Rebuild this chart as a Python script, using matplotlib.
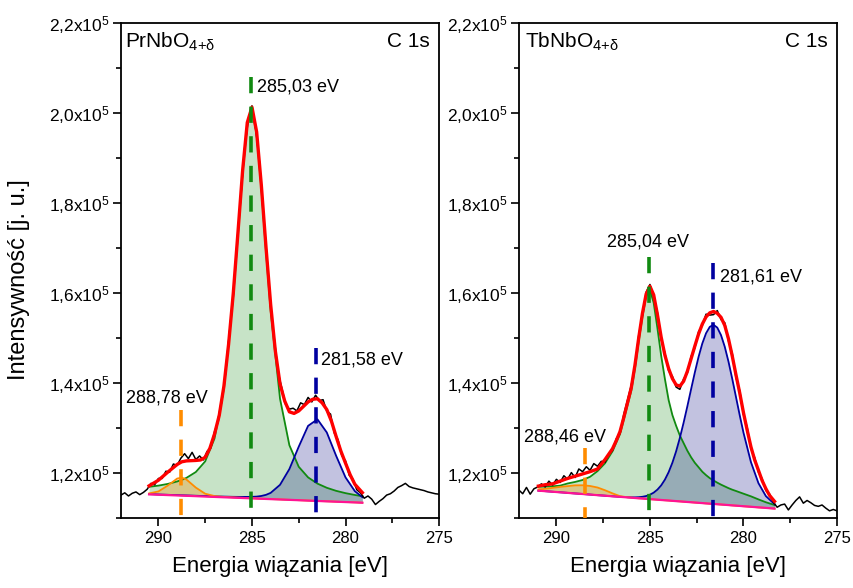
import numpy as np
import matplotlib
matplotlib.use('Agg')
import matplotlib.pyplot as plt
from matplotlib.ticker import MultipleLocator, FuncFormatter

plt.rcParams['font.family'] = 'Liberation Sans'
plt.rcParams['mathtext.fontset'] = 'custom'
plt.rcParams['mathtext.rm'] = 'Liberation Sans'
plt.rcParams['mathtext.it'] = 'Liberation Sans:italic'

# binding energy of the measured spectra (eV), same for both samples
raw_energy = [
    292.0, 291.8, 291.6, 291.4, 291.2, 291.0, 290.8, 290.6, 290.4, 290.2,
    290.0, 289.8, 289.6, 289.4, 289.2, 289.0, 288.8, 288.6, 288.4, 288.2,
    288.0, 287.8, 287.6, 287.4, 287.2, 287.0, 286.8, 286.6, 286.4, 286.2,
    286.0, 285.8, 285.6, 285.4, 285.2, 285.0, 284.8, 284.6, 284.4, 284.2,
    284.0, 283.8, 283.6, 283.4, 283.2, 283.0, 282.8, 282.6, 282.4, 282.2,
    282.0, 281.8, 281.6, 281.4, 281.2, 281.0, 280.8, 280.6, 280.4, 280.2,
    280.0, 279.8, 279.6, 279.4, 279.2, 279.0, 278.8, 278.6, 278.4, 278.2,
    278.0, 277.8, 277.6, 277.4, 277.2, 277.0, 276.8, 276.6, 276.4, 276.2,
    276.0, 275.8, 275.6, 275.4, 275.2, 275.0]

# intensities in units of 10^3 counts
pr_raw = [
    115.1, 115.6, 114.9, 115.5, 115.8, 115.2, 115.7, 116.4, 117.7, 117.4,
    118.8, 118.8, 120.4, 120.2, 122.0, 121.7, 123.3, 124.3, 123.2, 124.6,
    123.0, 123.8, 122.9, 124.8, 125.6, 129.2, 131.5, 136.3, 142.6, 151.3,
    159.5, 171.1, 181.2, 191.9, 198.4, 201.6, 196.5, 189.2, 178.0, 168.0,
    156.9, 149.6, 142.3, 138.8, 135.2, 134.2, 134.4, 133.8, 135.6, 135.2,
    136.8, 135.8, 137.3, 136.1, 136.3, 133.7, 133.1, 128.9, 127.4, 123.9,
    122.7, 119.5, 118.6, 116.3, 115.6, 114.4, 114.9, 114.2, 113.0, 113.7,
    114.3, 115.1, 115.4, 116.0, 116.8, 117.2, 117.7, 117.0, 116.7, 116.5,
    116.3, 116.1, 115.8, 115.6, 115.4, 115.3]

tb_raw = [
    116.2, 115.4, 116.8, 115.3, 116.5, 116.9, 117.6, 116.9, 118.2, 117.3,
    118.6, 117.9, 119.4, 118.6, 120.1, 119.0, 120.9, 120.3, 121.4, 120.6,
    122.1, 121.5, 122.6, 122.4, 124.2, 125.0, 127.6, 128.8, 133.0, 136.2,
    139.5, 143.6, 150.6, 155.1, 160.2, 161.9, 159.2, 155.7, 149.7, 146.7,
    142.7, 141.5, 139.1, 138.6, 140.9, 142.2, 145.9, 147.8, 151.4, 152.8,
    155.3, 155.1, 155.2, 156.1, 154.1, 153.4, 149.3, 146.6, 141.2, 138.3,
    133.0, 130.1, 125.4, 123.4, 120.2, 118.7, 116.1, 115.3, 113.5, 112.4,
    112.9, 113.1, 111.8, 112.9, 113.9, 114.7, 113.3, 113.9, 113.4, 112.8,
    112.6, 112.9, 112.2, 111.6, 111.9, 111.6]

# PrNbO4+d: envelope of the fit
pr_fit_energy = [290.5, 290.0, 289.5, 289.0, 288.75, 288.5, 288.0, 287.75, 287.5, 287.25,
                 287.0, 286.75, 286.5, 286.25, 286.0, 285.75, 285.5, 285.25, 285.0, 284.75,
                 284.5, 284.25, 284.0, 283.75, 283.5, 283.25, 283.0, 282.75, 282.5, 282.25,
                 282.0, 281.75, 281.5, 281.25, 281.0, 280.75, 280.5, 280.25, 280.0, 279.75,
                 279.5, 279.1]
pr_fit = [117.15, 118.4, 120.2, 121.9, 122.5, 122.7, 122.8, 122.9, 123.5, 125.5,
          128.7, 132.8, 139.3, 148.6, 159.9, 173.4, 187.2, 197.9, 201.3, 195.8,
          184.0, 170.2, 157.4, 147.1, 139.8, 136.0, 133.6, 133.25, 133.8, 134.8,
          135.8, 136.4, 136.5, 135.6, 134.1, 131.5, 128.1, 124.9, 122.2, 119.6,
          117.5, 115.65]

# PrNbO4+d: fitted components and background
pr_comp_energy = [290.5, 290.0, 289.5, 289.0, 288.75, 288.5, 288.0, 287.5, 287.0, 286.5,
                  286.0, 285.75, 285.5, 285.25, 285.0, 284.75, 284.5, 284.25, 284.0, 283.5,
                  283.0, 282.5, 282.0, 281.5, 281.0, 280.5, 280.0, 279.5, 279.1]
pr_background = [115.26, 115.18, 115.10, 115.02, 114.98, 114.94, 114.86, 114.77, 114.69, 114.61,
                 114.53, 114.49, 114.45, 114.41, 114.37, 114.32, 114.28, 114.24, 114.20, 114.12,
                 114.04, 113.96, 113.87, 113.79, 113.71, 113.63, 113.55, 113.47, 113.40]
pr_peak_288 = [115.47, 115.91, 117.21, 118.77, 118.98, 118.55, 116.76, 115.40, 114.88, 114.69,
               114.58, 114.53, 114.49, 114.45, 114.40, 114.35, 114.30, 114.26, 114.22, 114.14,
               114.05, 113.97, 113.88, 113.80, 113.72, 113.64, 113.56, 113.48, 113.40]
pr_peak_285 = [116.94, 117.20, 117.58, 118.12, 118.48, 118.93, 120.23, 122.59, 127.68, 138.77,
               159.34, 172.88, 186.74, 197.47, 200.90, 195.31, 183.35, 169.26, 156.01, 136.51,
               126.18, 121.39, 119.03, 117.65, 116.72, 116.04, 115.53, 115.12, 114.84]
pr_peak_281 = [115.31, 115.23, 115.16, 115.09, 115.05, 115.02, 114.95, 114.88, 114.82, 114.76,
               114.71, 114.70, 114.69, 114.69, 114.71, 114.76, 114.90, 115.15, 115.59, 117.38,
               120.88, 125.85, 130.48, 131.94, 129.02, 123.82, 119.04, 115.97, 114.65]

# TbNbO4+d: envelope of the fit
tb_fit_energy = [290.96, 290.6, 290.2, 289.8, 289.4, 289.0, 288.6, 288.2, 287.8, 287.4,
                 287.0, 286.8, 286.6, 286.4, 286.2, 286.0, 285.8, 285.6, 285.4, 285.2,
                 285.0, 284.8, 284.6, 284.4, 284.2, 284.0, 283.8, 283.6, 283.4, 283.2,
                 283.0, 282.8, 282.6, 282.4, 282.2, 282.0, 281.8, 281.6, 281.4, 281.2,
                 281.0, 280.8, 280.6, 280.4, 280.2, 280.0, 279.8, 279.6, 279.4, 279.2,
                 279.0, 278.8, 278.6, 278.34]
tb_fit = [117.1, 117.4, 117.6, 118.2, 118.8, 119.3, 119.8, 120.3, 120.9, 123.0,
          125.4, 127.2, 129.2, 132.3, 135.6, 138.9, 144.0, 150.0, 155.5, 159.8,
          161.5, 159.6, 155.2, 150.2, 146.2, 143.2, 141.0, 139.6, 139.3, 140.4,
          142.6, 145.4, 148.2, 150.9, 153.1, 154.7, 155.6, 155.9, 155.5, 154.6,
          152.8, 149.8, 146.0, 141.8, 137.8, 133.4, 129.5, 125.8, 122.9, 120.6,
          118.3, 116.5, 115.0, 113.7]

# TbNbO4+d: fitted components and background
tb_comp_energy = [290.96, 290.6, 290.2, 289.8, 289.4, 289.0, 288.6, 288.2, 287.8, 287.4,
                  287.0, 286.6, 286.2, 286.0, 285.8, 285.6, 285.4, 285.2, 285.0, 284.8,
                  284.6, 284.4, 284.2, 284.0, 283.8, 283.6, 283.4, 283.2, 283.0, 282.8,
                  282.6, 282.4, 282.2, 282.0, 281.8, 281.6, 281.4, 281.2, 281.0, 280.8,
                  280.6, 280.4, 280.2, 280.0, 279.6, 279.2, 278.8, 278.34]
tb_background = [116.08, 115.97, 115.84, 115.72, 115.59, 115.46, 115.34, 115.21, 115.08, 114.96,
                 114.83, 114.71, 114.58, 114.52, 114.45, 114.39, 114.33, 114.26, 114.20, 114.14,
                 114.07, 114.01, 113.95, 113.89, 113.82, 113.76, 113.70, 113.63, 113.57, 113.51,
                 113.44, 113.38, 113.32, 113.25, 113.19, 113.13, 113.07, 113.00, 112.94, 112.88,
                 112.81, 112.75, 112.69, 112.62, 112.50, 112.37, 112.25, 112.10]
tb_peak_288 = [116.37, 116.49, 116.70, 116.92, 117.09, 117.26, 117.28, 117.12, 116.78, 116.17,
               115.48, 114.86, 114.62, 114.54, 114.45, 114.39, 114.33, 114.26, 114.20, 114.14,
               114.07, 114.01, 113.95, 113.89, 113.82, 113.76, 113.70, 113.63, 113.57, 113.51,
               113.44, 113.38, 113.32, 113.25, 113.19, 113.13, 113.07, 113.00, 112.94, 112.88,
               112.81, 112.75, 112.69, 112.62, 112.50, 112.37, 112.25, 112.10]
tb_peak_285 = [116.96, 116.99, 117.05, 117.20, 117.68, 118.02, 118.45, 119.16, 120.43, 122.17,
               124.83, 128.66, 135.04, 138.23, 143.28, 149.27, 154.78, 159.37, 160.70, 157.85,
               152.20, 146.10, 140.92, 136.21, 132.89, 130.50, 128.34, 126.65, 124.96, 123.51,
               122.28, 121.29, 120.29, 119.53, 118.86, 118.34, 117.86, 117.42, 117.03, 116.64,
               116.30, 116.01, 115.71, 115.41, 114.82, 114.14, 113.50, 112.89]
tb_peak_281 = [116.08, 115.97, 115.84, 115.72, 115.59, 115.46, 115.34, 115.21, 115.08, 114.96,
               114.83, 114.72, 114.63, 114.60, 114.59, 114.63, 114.72, 114.89, 115.19, 115.64,
               116.31, 117.25, 118.53, 120.19, 122.28, 124.82, 127.81, 131.18, 134.82, 138.61,
               142.34, 145.81, 148.79, 151.06, 152.49, 152.93, 152.32, 150.65, 148.06, 144.75,
               140.94, 136.89, 132.84, 128.98, 122.42, 117.76, 114.86, 113.10]

# peak positions (eV), marker tops (10^3 counts) and labels
pr_positions = [288.78, 285.03, 281.58]
pr_marker_tops = [134.0, 208.0, 147.8]
pr_labels = ['288,78 eV', '285,03 eV', '281,58 eV']
pr_label_xy = [(291.76, 136.7, 'left'), (284.71, 205.8, 'left'), (281.30, 145.1, 'left')]

tb_positions = [288.46, 285.04, 281.61]
tb_marker_tops = [125.5, 168.1, 166.6]
tb_labels = ['288,46 eV', '285,04 eV', '281,61 eV']
tb_label_xy = [(291.71, 128.1, 'left'), (285.08, 171.4, 'center'), (281.28, 163.6, 'left')]

peak_colors = ['#ff8c00', '#118a11', '#0000a0']
fill_colors = ['#ff8c00', '#008000', '#000080']
fill_alpha = [0.3, 0.22, 0.24]


def k(values):
    return np.array(values) * 1e3


def ytick_text(v, pos):
    return '{:.1f}'.format(v / 1e5).replace('.', ',') + 'x10$^{5}$'


def draw_panel(ax, comp_e, background, peaks, fit_e, fit, raw, positions, tops,
               labels, label_xy, sample, sample_x):
    base = k(background)
    # filled components (green first so the overlap shows like the original)
    for idx in [1, 2, 0]:
        ax.fill_between(comp_e, base, k(peaks[idx]), color=fill_colors[idx],
                        alpha=fill_alpha[idx], lw=0, zorder=1)
    for idx in [1, 2, 0]:
        ax.plot(comp_e, k(peaks[idx]), color=peak_colors[idx], lw=1.3, zorder=2)
    ax.plot(comp_e, base, color='#ff1493', lw=1.6, zorder=3)
    ax.plot(raw_energy, k(raw), color='black', lw=1.1, zorder=4)
    ax.plot(fit_e, k(fit), color='#ff0000', lw=2.4, zorder=5)

    for pos, top, col in zip(positions, tops, peak_colors):
        ax.plot([pos, pos], [top * 1e3, 110000], color=col, lw=2.6,
                dashes=(4.5, 3.7), zorder=6)
    for lab, (x, y, ha) in zip(labels, label_xy):
        ax.text(x, y * 1e3, lab, fontsize=13, ha=ha, va='center', zorder=7)

    ax.text(sample_x, 0.951, sample + r'$_{\mathregular{4{+}δ}}$', transform=ax.transAxes,
            fontsize=15, ha='left', va='baseline')
    ax.text(0.971, 0.951, 'C 1s', transform=ax.transAxes, fontsize=15,
            ha='right', va='baseline')

    ax.set_xlim(292, 275)
    ax.set_ylim(110000, 220000)
    ax.xaxis.set_major_locator(MultipleLocator(5))
    ax.xaxis.set_minor_locator(MultipleLocator(2.5))
    ax.yaxis.set_major_locator(MultipleLocator(20000))
    ax.yaxis.set_minor_locator(MultipleLocator(10000))
    ax.yaxis.set_major_formatter(FuncFormatter(ytick_text))
    ax.tick_params(which='both', direction='out', top=False, right=False, width=1.2)
    ax.tick_params(which='major', length=6)
    ax.tick_params(which='minor', length=3.5)
    ax.tick_params(axis='x', labelsize=12)
    ax.tick_params(axis='y', labelsize=12.5, pad=2)
    for sp in ax.spines.values():
        sp.set_linewidth(1.3)
    ax.set_xlabel('Energia wiązania [eV]', fontsize=16, labelpad=7)


fig = plt.figure(figsize=(8.54, 5.88), dpi=100)
ax1 = fig.add_axes([0.1417, 0.119, 0.3724, 0.8418])
ax2 = fig.add_axes([0.6077, 0.119, 0.3724, 0.8418])

draw_panel(ax1, pr_comp_energy, pr_background, [pr_peak_288, pr_peak_285, pr_peak_281],
           pr_fit_energy, pr_fit, pr_raw, pr_positions, pr_marker_tops,
           pr_labels, pr_label_xy, 'PrNbO', 0.0126)
draw_panel(ax2, tb_comp_energy, tb_background, [tb_peak_288, tb_peak_285, tb_peak_281],
           tb_fit_energy, tb_fit, tb_raw, tb_positions, tb_marker_tops,
           tb_labels, tb_label_xy, 'TbNbO', 0.019)

fig.text(0.022, 0.525, 'Intensywność [j. u.]', rotation=90, fontsize=17,
         ha='center', va='center')

fig.savefig('out.png', dpi=100)
